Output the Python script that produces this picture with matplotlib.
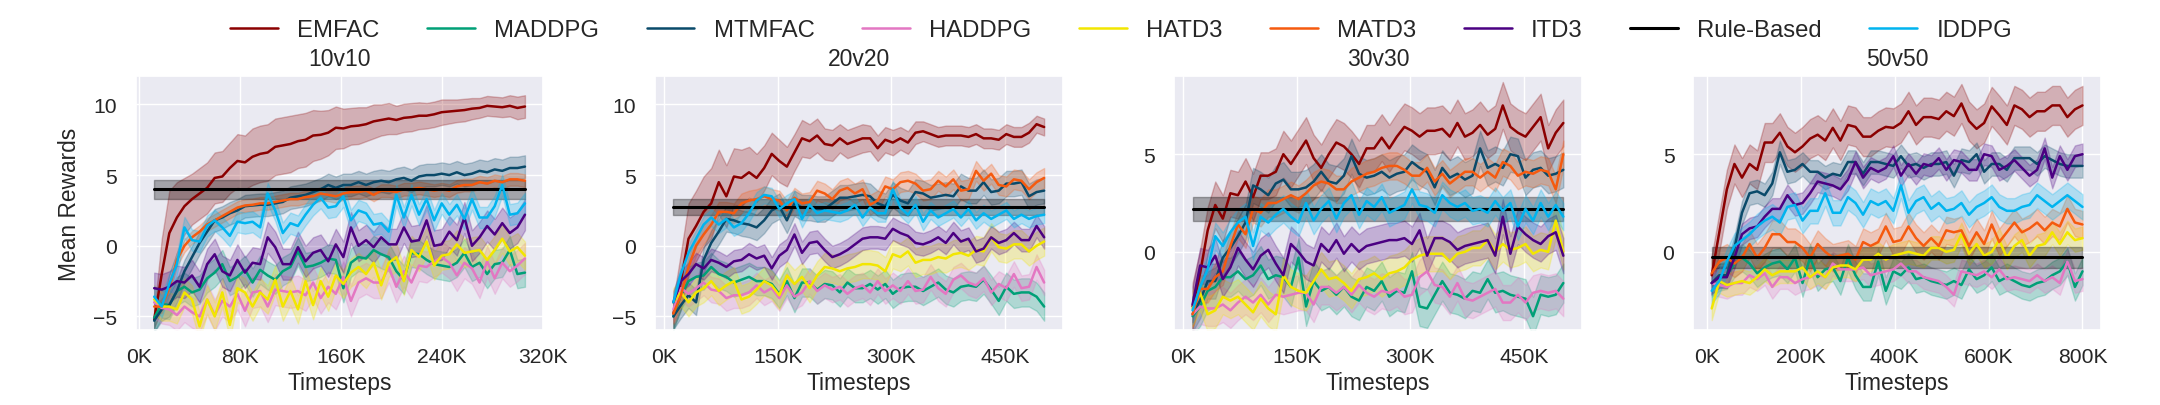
import numpy as np
import matplotlib
matplotlib.use("Agg")
import matplotlib.pyplot as plt
from matplotlib.ticker import MultipleLocator, FuncFormatter
import seaborn as sns

METHODS = ["EMFAC", "MADDPG", "MTMFAC", "HADDPG", "HATD3", "MATD3", "ITD3", "Rule-Based", "IDDPG"]
COLORS = {
    "EMFAC": "#8b0000", "MADDPG": "#00a077", "MTMFAC": "#0a4a6a", "HADDPG": "#e377c2",
    "HATD3": "#f2e600", "MATD3": "#f55a0f", "ITD3": "#4b0082", "Rule-Based": "black",
    "IDDPG": "#00b4ef",
}
SCENARIOS = ["10v10", "20v20", "30v30", "50v50"]

# first / last evaluation step of each scenario (50 evaluations each)
X_RANGE = {"10v10": (12e3, 306e3), "20v20": (12e3, 502e3), "30v30": (12e3, 502e3), "50v50": (10e3, 800e3)}
X_TICK_STEP = {"10v10": 80e3, "20v20": 150e3, "30v30": 150e3, "50v50": 200e3}
Y_LIMITS = {"10v10": (-5.95, 12.0), "20v20": (-5.95, 12.0), "30v30": (-4.0, 9.0), "50v50": (-4.0, 9.0)}

# rule-based baseline: constant mean and spread
RULE_MEAN = {"10v10": 4.0, "20v20": 2.75, "30v30": 2.2, "50v50": -0.28}
RULE_STD = {"10v10": 0.68, "20v20": 0.55, "30v30": 0.6, "50v50": 0.53}

MEAN_10 = {
    "EMFAC": [-5.2, -2.0, 0.9, 2.0, 2.8, 3.3, 3.7, 4.1, 4.8, 4.9,
              5.5, 6.0, 5.9, 6.3, 6.5, 6.6, 7.0, 7.1, 7.2, 7.4,
              7.5, 7.8, 7.85, 8.0, 8.35, 8.3, 8.45, 8.5, 8.6, 8.8,
              8.9, 9.0, 8.9, 9.05, 9.1, 9.2, 9.2, 9.3, 9.45, 9.5,
              9.55, 9.6, 9.7, 9.75, 9.9, 9.85, 9.8, 9.9, 9.75, 9.85],
    "MADDPG": [-5.1, -4.1, -4.2, -3.2, -2.9, -3.3, -3.1, -2.3, -1.9, -1.3,
               -2.5, -2.2, -1.7, -2.6, -1.7, -2.1, -2.4, -1.8, -1.5, -0.4,
               -1.5, -1.4, -1.2, -0.9, -1.0, -3.0, -1.2, -0.8, -0.9, -0.3,
               -0.6, -0.8, -1.8, -2.4, -0.5, -0.6, -1.0, -1.3, -1.4, -1.5,
               -1.2, -0.5, -1.5, -1.2, -2.0, -1.3, -1.2, -0.3, -2.0, -1.9],
    "MTMFAC": [-5.3, -4.5, -4.2, -3.2, -1.8, -0.8, 0.2, 1.0, 1.8, 2.0,
               2.3, 2.5, 2.8, 2.85, 2.9, 2.9, 3.0, 3.1, 3.4, 3.5,
               3.6, 3.8, 4.0, 4.3, 4.1, 4.3, 4.3, 4.5, 4.3, 4.5,
               4.6, 4.5, 4.7, 4.8, 4.6, 4.9, 5.0, 5.0, 5.1, 5.0,
               5.2, 5.0, 5.1, 5.3, 5.2, 5.4, 5.3, 5.5, 5.5, 5.6],
    "HADDPG": [-4.0, -4.4, -4.5, -4.9, -4.3, -4.7, -5.0, -3.8, -4.9, -3.9,
               -4.3, -3.4, -4.6, -3.3, -3.2, -4.3, -3.1, -3.2, -3.3, -3.2,
               -3.5, -2.6, -3.7, -2.9, -3.4, -2.2, -3.9, -2.6, -2.3, -2.6,
               -2.6, -1.5, -2.9, -1.8, -2.6, -1.4, -1.5, -1.1, -0.8, -1.2,
               -2.1, -1.2, -1.6, -2.6, -1.1, -2.3, -1.2, -1.8, -1.4, -0.9],
    "HATD3": [-3.8, -4.3, -4.3, -4.5, -3.3, -3.8, -5.7, -3.8, -5.0, -3.3,
              -5.6, -3.0, -3.3, -4.3, -3.3, -3.8, -2.4, -4.3, -3.2, -4.5,
              -2.5, -4.2, -2.5, -3.6, -2.1, -2.7, -1.9, -1.5, -2.0, -1.2,
              -2.8, -1.2, -0.8, -2.5, -0.3, -0.8, 0.3, -1.4, -0.7, -0.6,
              0.1, -0.5, -0.4, -0.3, -1.0, -0.3, 0.5, -0.4, -0.1, -0.7],
    "MATD3": [-4.3, -4.3, -3.0, -1.0, 0.0, 0.6, 1.0, 1.5, 1.8, 2.1,
              2.4, 2.7, 2.85, 2.9, 3.0, 3.0, 3.1, 3.2, 3.3, 3.3,
              3.45, 3.5, 3.7, 3.6, 3.5, 3.7, 3.8, 3.8, 3.9, 3.6,
              3.9, 3.9, 3.8, 4.0, 4.0, 4.1, 4.0, 3.9, 4.0, 3.9,
              4.2, 4.3, 4.3, 4.5, 4.4, 4.6, 4.5, 4.7, 4.7, 4.6],
    "ITD3": [-3.0, -3.1, -2.9, -2.5, -2.6, -2.1, -2.9, -1.3, -0.6, -1.8,
             -2.1, -1.0, -1.9, -1.2, -1.3, 0.6, -0.1, -1.3, -1.3, -0.1,
             -1.1, -0.5, -0.3, -1.1, 0.1, -0.8, 1.3, 0.0, 0.4, -0.1,
             0.6, 0.1, 0.1, 1.3, 0.3, 0.4, 1.8, 0.0, 0.1, 1.0,
             0.4, 2.0, 0.0, 0.6, 1.4, 0.8, 1.6, 0.9, 1.3, 2.2],
    "IDDPG": [-3.6, -4.3, -2.7, -1.3, 1.3, 0.4, 0.3, 1.4, 1.8, 1.3,
              0.7, 1.7, 1.6, 1.7, 1.3, 3.7, 2.5, 0.9, 1.6, 1.4,
              2.2, 2.9, 3.4, 2.7, 2.8, 3.5, 1.8, 2.5, 2.3, 1.5,
              1.6, 1.0, 3.6, 2.0, 3.6, 2.2, 3.3, 1.8, 3.0, 2.2,
              2.9, 1.9, 3.3, 2.0, 2.0, 2.8, 4.3, 2.2, 2.3, 3.0],
}
STD_10 = {
    "EMFAC": [0.6, 2.5, 3.0, 2.5, 2.0, 1.8, 1.8, 1.8, 1.8, 1.8,
              1.8, 1.9, 1.9, 2.0, 2.0, 2.0, 2.0, 2.0, 2.0, 1.9,
              1.9, 1.8, 1.7, 1.6, 1.5, 1.4, 1.3, 1.3, 1.2, 1.2,
              1.1, 1.1, 1.0, 1.0, 1.0, 0.95, 0.9, 0.9, 0.9, 0.85,
              0.8, 0.8, 0.75, 0.7, 0.7, 0.7, 0.7, 0.75, 0.8, 0.8],
    "MADDPG": 1.0, "MTMFAC": 0.8, "HADDPG": 1.1, "HATD3": 1.0,
    "MATD3": 0.45, "ITD3": 1.1, "IDDPG": 0.75,
}

MEAN_20 = {
    "EMFAC": [-4.8, -2.5, 0.5, 1.4, 2.4, 3.0, 4.5, 3.5, 4.9, 4.8,
              5.2, 4.8, 5.5, 6.5, 6.0, 5.6, 6.6, 7.6, 7.4, 7.8,
              7.2, 7.1, 7.6, 7.2, 7.4, 7.6, 7.6, 6.9, 7.5, 7.3,
              7.6, 7.3, 8.0, 8.1, 7.9, 7.7, 7.8, 7.8, 7.8, 7.7,
              7.9, 7.6, 7.6, 7.5, 7.9, 7.7, 7.7, 8.0, 8.6, 8.4],
    "MADDPG": [-5.0, -3.5, -2.5, -2.2, -2.1, -1.5, -2.0, -2.2, -2.6, -2.4,
               -2.2, -2.5, -2.5, -2.7, -3.4, -2.5, -3.7, -2.6, -2.6, -3.1,
               -2.7, -2.8, -3.3, -2.6, -3.0, -3.0, -2.7, -3.1, -2.7, -3.4,
               -3.0, -2.9, -2.9, -3.2, -2.9, -2.6, -3.1, -3.3, -2.9, -2.8,
               -2.9, -2.4, -3.1, -3.9, -2.9, -3.4, -3.3, -3.3, -3.6, -4.3],
    "MTMFAC": [-5.0, -4.2, -3.5, -4.0, -1.0, 0.2, 1.0, 1.9, 1.8, 1.6,
               1.5, 1.3, 1.8, 2.5, 2.8, 1.8, 3.0, 2.7, 2.7, 2.6,
               2.6, 3.0, 3.4, 3.4, 3.5, 3.6, 3.5, 3.0, 2.8, 3.6,
               3.2, 3.0, 3.8, 3.7, 3.4, 3.5, 3.6, 3.5, 4.2, 3.9,
               3.9, 4.5, 3.8, 3.9, 4.4, 4.4, 4.5, 3.5, 3.8, 3.9],
    "HADDPG": [-4.5, -3.0, -3.4, -3.0, -2.6, -3.1, -3.2, -3.7, -3.5, -3.5,
               -3.3, -2.8, -3.3, -3.0, -3.7, -2.8, -3.6, -3.3, -2.5, -3.2,
               -2.8, -3.1, -2.9, -3.4, -3.0, -2.8, -3.3, -2.5, -3.2, -2.8,
               -3.2, -2.5, -3.2, -3.1, -2.2, -3.0, -3.4, -2.4, -2.1, -2.6,
               -2.8, -2.3, -3.3, -2.7, -3.0, -2.0, -3.0, -2.9, -1.5, -2.6],
    "HATD3": [-4.0, -3.3, -4.0, -3.3, -3.0, -2.5, -3.2, -2.8, -2.5, -3.8,
              -3.6, -3.1, -2.5, -2.8, -3.5, -2.1, -2.7, -2.2, -3.0, -2.1,
              -1.5, -1.6, -1.8, -1.6, -1.5, -1.3, -1.3, -1.4, -1.8, -0.6,
              -0.8, -0.4, -1.2, -1.0, -1.0, -0.8, -0.9, -0.6, -0.5, -0.7,
              -0.3, -0.4, 0.6, -0.1, -0.2, 0.1, 0.1, -0.4, 0.0, 0.3],
    "MATD3": [-4.8, -3.5, -1.5, 0.0, 0.8, 1.5, 2.4, 2.4, 2.3, 3.0,
              3.2, 3.3, 3.5, 3.3, 3.2, 2.5, 3.4, 3.0, 3.1, 3.9,
              3.7, 3.3, 3.9, 4.1, 3.7, 4.0, 2.9, 3.2, 4.2, 4.0,
              4.5, 4.6, 4.4, 3.9, 4.0, 4.6, 4.2, 4.7, 3.9, 4.0,
              5.3, 4.6, 5.1, 4.3, 4.2, 4.7, 4.6, 4.0, 4.5, 4.8],
    "ITD3": [-4.0, -2.5, -2.0, -1.3, -1.6, -1.0, -1.2, -1.5, -1.1, -1.0,
             -0.6, -0.9, -0.7, -1.6, -0.7, -0.3, 0.8, -0.5, 0.2, 0.3,
             -0.3, -0.8, -0.6, -0.3, 0.1, 0.5, 0.6, 0.6, 0.5, 1.2,
             0.9, 0.7, 0.2, 0.1, 0.3, 0.6, 0.2, 0.9, 0.3, 0.5,
             -0.4, -0.2, 0.6, 0.2, 0.4, 0.9, 0.4, 0.4, 1.4, 0.6],
    "IDDPG": [-4.0, -2.0, -0.5, 0.5, 1.5, 2.0, 1.5, 1.9, 1.3, 1.6,
              2.3, 3.2, 3.6, 3.5, 2.6, 3.0, 3.3, 1.9, 2.9, 2.3,
              2.5, 2.4, 2.3, 2.5, 2.9, 2.0, 2.7, 2.3, 2.3, 4.0,
              2.7, 2.2, 2.9, 1.7, 2.5, 2.0, 2.3, 2.6, 2.0, 2.6,
              1.8, 2.3, 1.9, 2.2, 2.5, 1.9, 2.2, 1.9, 2.1, 2.2],
}
STD_20 = {
    "EMFAC": [1.0, 2.0, 2.5, 2.5, 2.5, 2.5, 2.3, 2.2, 2.0, 2.0,
              1.8, 1.7, 1.6, 1.5, 1.5, 1.4, 1.3, 1.3, 1.2, 1.2,
              1.1, 1.1, 1.0, 1.0, 1.0, 1.0, 0.9, 0.9, 0.9, 0.9,
              0.8, 0.8, 0.8, 0.7, 0.7, 0.7, 0.7, 0.7, 0.7, 0.7,
              0.7, 0.7, 0.7, 0.7, 0.7, 0.7, 0.7, 0.7, 0.6, 0.6],
    "MADDPG": 1.0, "MTMFAC": 0.9, "HADDPG": 0.9, "HATD3": 1.0,
    "MATD3": 0.7, "ITD3": 0.8, "IDDPG": 0.6,
}

MEAN_30 = {
    "EMFAC": [-2.8, -1.1, 1.1, 2.4, 1.7, 3.0, 2.9, 3.6, 2.8, 3.9,
              3.9, 4.1, 5.0, 4.5, 5.1, 5.7, 4.8, 4.3, 5.0, 5.6,
              5.4, 5.0, 4.5, 5.3, 5.3, 5.85, 5.3, 5.9, 6.4, 6.2,
              5.9, 6.2, 6.2, 6.3, 5.9, 6.6, 5.9, 6.1, 6.5, 6.0,
              6.3, 7.5, 6.4, 6.1, 5.9, 6.4, 6.9, 5.3, 6.1, 6.6],
    "MADDPG": [-3.3, -2.8, -2.0, -1.8, -1.3, -1.3, -1.0, -1.4, -1.2, -0.7,
               -1.4, -1.2, -1.3, -1.8, -0.3, -2.8, -1.5, -2.0, -1.8, -2.2,
               -1.8, -2.3, -2.5, -1.8, -2.0, -1.5, -2.3, -2.0, -2.1, -1.0,
               -2.8, -2.9, -2.2, -1.5, -2.1, -2.2, -2.4, -2.0, -2.1, -1.4,
               -2.1, -2.0, -2.2, -2.3, -2.4, -3.3, -2.2, -2.3, -2.2, -1.6],
    "MTMFAC": [-3.2, -2.5, -1.5, -1.5, -0.3, 0.2, 0.8, 1.5, 3.4, 3.2,
               2.9, 3.5, 3.7, 3.2, 3.2, 3.3, 3.6, 4.1, 3.6, 3.5,
               3.9, 4.9, 4.0, 3.8, 3.9, 4.1, 3.8, 4.0, 4.1, 4.6,
               4.3, 4.1, 3.3, 4.3, 3.8, 4.0, 3.7, 3.9, 5.3, 4.3,
               4.5, 4.3, 5.0, 4.9, 3.8, 4.2, 4.3, 3.9, 4.0, 4.2],
    "HADDPG": [-3.2, -2.8, -2.9, -2.9, -2.7, -3.0, -2.6, -2.3, -2.6, -2.2,
               -2.7, -2.2, -2.3, -2.2, -2.1, -2.1, -2.7, -1.8, -1.8, -2.1,
               -1.8, -2.2, -1.7, -2.1, -2.3, -2.0, -2.1, -1.9, -2.3, -2.2,
               -1.3, -1.0, -1.7, -1.8, -2.3, -1.6, -2.4, -2.5, -2.3, -2.1,
               -1.9, -2.6, -2.6, -2.2, -2.6, -2.1, -2.0, -2.1, -2.0, -2.4],
    "HATD3": [-2.9, -2.1, -3.2, -3.0, -2.3, -2.5, -2.3, -2.7, -3.1, -2.4,
              -2.9, -3.2, -1.2, -1.8, -2.0, -2.1, -1.5, -0.9, -1.4, -1.3,
              -1.6, -2.0, -1.4, -1.3, -1.1, -1.4, -1.1, -1.0, -0.8, -0.4,
              -0.2, -0.1, -0.1, -0.1, -0.5, -0.1, 0.0, 0.2, 0.2, 0.6,
              0.0, 0.4, 0.1, 0.2, 0.4, -0.1, 0.1, 0.0, 1.6, 0.0],
    "MATD3": [-3.2, -1.9, -1.9, -1.3, -1.0, 0.3, 1.4, 0.9, 2.2, 2.0,
              2.5, 2.5, 2.7, 2.9, 2.7, 3.0, 3.4, 3.6, 3.5, 3.2,
              3.2, 3.6, 3.8, 4.0, 4.1, 4.3, 4.4, 4.4, 4.2, 3.9,
              3.9, 4.3, 3.6, 4.0, 3.5, 3.8, 4.1, 4.1, 3.8, 4.1,
              3.8, 4.6, 4.4, 3.9, 4.1, 4.0, 4.2, 4.1, 3.2, 5.0],
    "ITD3": [-2.7, -0.7, -0.8, -0.2, -1.4, -0.8, 0.2, -0.4, -0.9, -0.2,
             0.1, -0.6, -1.2, 0.4, 0.0, -0.5, -0.7, 0.4, 0.0, 0.6,
             -0.1, 0.4, 0.0, 0.3, 0.4, 0.5, 0.6, 0.6, 0.7, 0.4,
             1.1, -0.2, 0.7, 0.7, 0.5, 0.1, 0.3, 0.4, 0.5, 0.6,
             -0.2, 1.8, -0.1, 1.3, 0.9, 0.6, 0.4, 0.8, 1.0, -0.2],
    "IDDPG": [-3.0, -1.8, -0.9, 0.8, 0.3, 1.0, 1.5, 1.8, 0.3, 1.8,
              1.5, 1.9, 2.2, 1.8, 1.5, 2.5, 1.6, 2.2, 2.6, 1.7,
              2.5, 2.9, 1.9, 2.6, 2.3, 2.8, 2.0, 2.2, 2.4, 3.2,
              2.4, 2.3, 2.0, 2.9, 2.5, 2.3, 2.5, 2.1, 2.2, 2.0,
              2.6, 2.1, 2.5, 1.3, 2.2, 1.6, 2.5, 1.8, 2.4, 1.8],
}
STD_30 = {"EMFAC": 1.2, "MADDPG": 1.0, "MTMFAC": 0.9, "HADDPG": 0.9, "HATD3": 0.9,
          "MATD3": 0.7, "ITD3": 0.9, "IDDPG": 0.7}

MEAN_50 = {
    "EMFAC": [-1.2, 1.0, 3.2, 4.5, 3.8, 4.5, 4.2, 5.6, 5.6, 6.1,
              5.4, 5.1, 5.4, 5.8, 6.0, 5.7, 6.35, 5.7, 6.5, 6.4,
              5.9, 5.9, 6.2, 6.4, 6.35, 6.6, 7.2, 6.5, 6.9, 6.9,
              6.8, 7.2, 6.95, 7.6, 6.7, 6.3, 6.6, 7.45, 7.0, 6.5,
              7.5, 7.3, 6.9, 7.2, 7.2, 7.5, 7.5, 6.9, 7.3, 7.5],
    "MADDPG": [-1.6, -1.3, -1.2, -0.6, -0.3, -0.6, -1.1, -0.8, -0.6, -0.5,
               -0.9, -0.3, -1.6, -0.3, -1.3, -0.9, -0.8, -1.5, -0.3, -1.2,
               -1.8, -1.8, -0.5, -2.0, -1.0, -1.2, -0.8, -1.4, -1.3, -1.5,
               -1.6, -1.7, -1.5, -1.7, -0.9, -1.4, -1.2, -0.8, -1.5, -1.3,
               -1.5, -1.7, -1.8, -1.6, -1.5, -1.2, -1.0, -0.5, -1.8, -1.0],
    "MTMFAC": [-1.6, -1.2, -1.2, 0.2, 2.0, 3.0, 3.1, 2.9, 3.5, 5.1,
               4.1, 4.2, 4.5, 4.1, 4.1, 3.8, 4.0, 3.9, 4.6, 4.6,
               4.0, 4.6, 4.6, 4.5, 4.4, 4.9, 4.4, 4.5, 4.3, 4.5,
               4.5, 4.6, 3.9, 4.7, 4.6, 5.0, 4.1, 4.5, 4.5, 4.2,
               4.8, 4.8, 4.8, 4.5, 4.9, 4.7, 4.5, 4.4, 4.4, 4.4],
    "HADDPG": [-1.6, -1.7, -1.8, -1.6, -1.6, -1.2, -1.4, -1.1, -1.8, -1.3,
               -1.3, -1.6, -1.4, -1.3, -1.1, -1.3, -0.6, -0.9, -0.9, -0.9,
               -0.8, -1.2, -1.1, -1.0, -0.9, -0.6, -1.0, -1.0, -1.3, -1.4,
               -1.5, -1.8, -2.2, -1.0, -1.1, -1.2, -1.0, -1.3, -0.9, -1.4,
               -1.3, -1.4, -1.5, -1.2, -1.5, -1.3, -1.6, -0.5, -1.5, -1.4],
    "HATD3": [-2.9, -1.5, -1.7, -1.6, -1.5, -1.6, -1.3, -0.9, -1.2, -1.0,
              -1.0, -1.0, -0.8, -1.3, -1.0, -1.3, -0.8, -0.7, -0.7, -0.9,
              -0.4, -0.4, -0.1, -0.4, -0.2, -0.1, 0.0, -0.1, -0.2, 0.2,
              0.2, 0.0, 0.1, 0.9, -0.1, 0.4, -0.2, 0.0, 0.6, -0.3,
              0.3, 0.6, -0.2, 0.3, 0.4, 1.0, 0.4, 1.0, 0.6, 0.7],
    "MATD3": [-1.1, -0.5, -0.3, -0.6, -0.3, 0.4, -0.3, 0.2, 0.9, 0.9,
              0.5, 0.5, 0.2, -0.3, 0.4, 0.0, -0.3, -0.2, -0.1, -0.4,
              0.5, 0.3, 0.5, 1.3, 0.5, 0.6, 1.3, 0.7, 0.3, 0.7,
              0.3, 1.1, 1.0, 1.1, 0.3, 1.0, 0.4, 1.4, 0.5, 1.0,
              1.5, 1.0, 1.2, 1.5, 1.1, 1.5, 1.3, 2.2, 1.5, 1.4],
    "ITD3": [-1.6, -1.3, -1.3, -0.3, 0.9, 1.2, 1.3, 1.8, 2.2, 2.2,
             2.9, 2.4, 2.5, 3.0, 3.6, 3.5, 3.4, 3.2, 3.7, 4.6,
             3.8, 4.3, 4.1, 4.3, 4.9, 3.9, 4.5, 4.0, 4.5, 4.4,
             4.8, 4.2, 4.7, 4.6, 4.2, 4.2, 5.0, 4.9, 4.2, 4.4,
             4.7, 4.3, 3.9, 4.2, 5.3, 3.8, 4.9, 4.2, 4.9, 5.0],
    "IDDPG": [-2.0, -1.5, -0.5, 0.3, 0.6, 0.9, 1.3, 1.6, 1.8, 1.5,
              2.3, 2.4, 1.6, 2.1, 2.1, 3.0, 2.0, 2.0, 2.8, 2.5,
              1.9, 2.6, 2.4, 2.6, 2.1, 3.4, 2.0, 2.6, 2.8, 2.2,
              2.5, 2.1, 2.2, 2.5, 1.9, 2.3, 2.5, 2.8, 2.3, 2.1,
              2.1, 2.3, 2.4, 2.9, 2.6, 2.3, 2.6, 2.9, 2.6, 2.3],
}
STD_50 = {"EMFAC": 1.0, "MADDPG": 0.7, "MTMFAC": 0.6, "HADDPG": 0.6, "HATD3": 0.6,
          "MATD3": 0.7, "ITD3": 0.55, "IDDPG": 0.65}

MEANS = {"10v10": MEAN_10, "20v20": MEAN_20, "30v30": MEAN_30, "50v50": MEAN_50}
STDS = {"10v10": STD_10, "20v20": STD_20, "30v30": STD_30, "50v50": STD_50}

sns.set_theme(style="darkgrid")
plt.rcParams["font.family"] = ["Liberation Sans", "DejaVu Sans"]
TEXT_COLOR = "#262626"

fig, axes = plt.subplots(1, 4, figsize=(21.6, 4.06), dpi=100)
fig.subplots_adjust(left=0.0628, right=0.9727, bottom=0.185, top=0.810, wspace=0.273)

k_fmt = FuncFormatter(lambda v, _: f"{int(round(v / 1000))}K")

for ax, sc in zip(axes, SCENARIOS):
    x0, x1 = X_RANGE[sc]
    for name in METHODS:
        color = COLORS[name]
        if name == "Rule-Based":
            n = len(MEANS[sc]["EMFAC"])
            x = np.linspace(x0, x1, n)
            y = np.full(n, RULE_MEAN[sc])
            ax.fill_between(x, y - RULE_STD[sc], y + RULE_STD[sc], color=color, alpha=0.3)
            ax.plot(x, y, color=color, lw=2.2, label=name)
            continue
        y = np.asarray(MEANS[sc][name])
        s = np.asarray(STDS[sc][name])
        x = np.linspace(x0, x1, len(y))
        ax.fill_between(x, y - s, y + s, color=color, alpha=0.25)
        ax.plot(x, y, color=color, lw=1.8, label=name)

    ax.set_ylim(*Y_LIMITS[sc])
    ax.xaxis.set_major_locator(MultipleLocator(X_TICK_STEP[sc]))
    ax.xaxis.set_major_formatter(k_fmt)
    ax.yaxis.set_major_locator(MultipleLocator(5))
    ax.tick_params(axis="x", labelsize=15.2, length=0, pad=12, colors=TEXT_COLOR)
    ax.tick_params(axis="y", labelsize=15.2, length=0, pad=13.5, colors=TEXT_COLOR)
    ax.set_title(sc, fontsize=16.5, pad=8, color=TEXT_COLOR)
    ax.set_xlabel("Timesteps", fontsize=16.4, labelpad=4, color=TEXT_COLOR)

axes[0].set_ylabel("Mean Rewards", fontsize=16.4, labelpad=8.5, color=TEXT_COLOR)

handles, labels = axes[0].get_legend_handles_labels()
leg = fig.legend(handles, labels, loc="center", bbox_to_anchor=(0.519, 1 - 31 / 406),
                 ncol=9, frameon=False, fontsize=17.2)
for t in leg.get_texts():
    t.set_color(TEXT_COLOR)

fig.savefig("out.png", dpi=100)
